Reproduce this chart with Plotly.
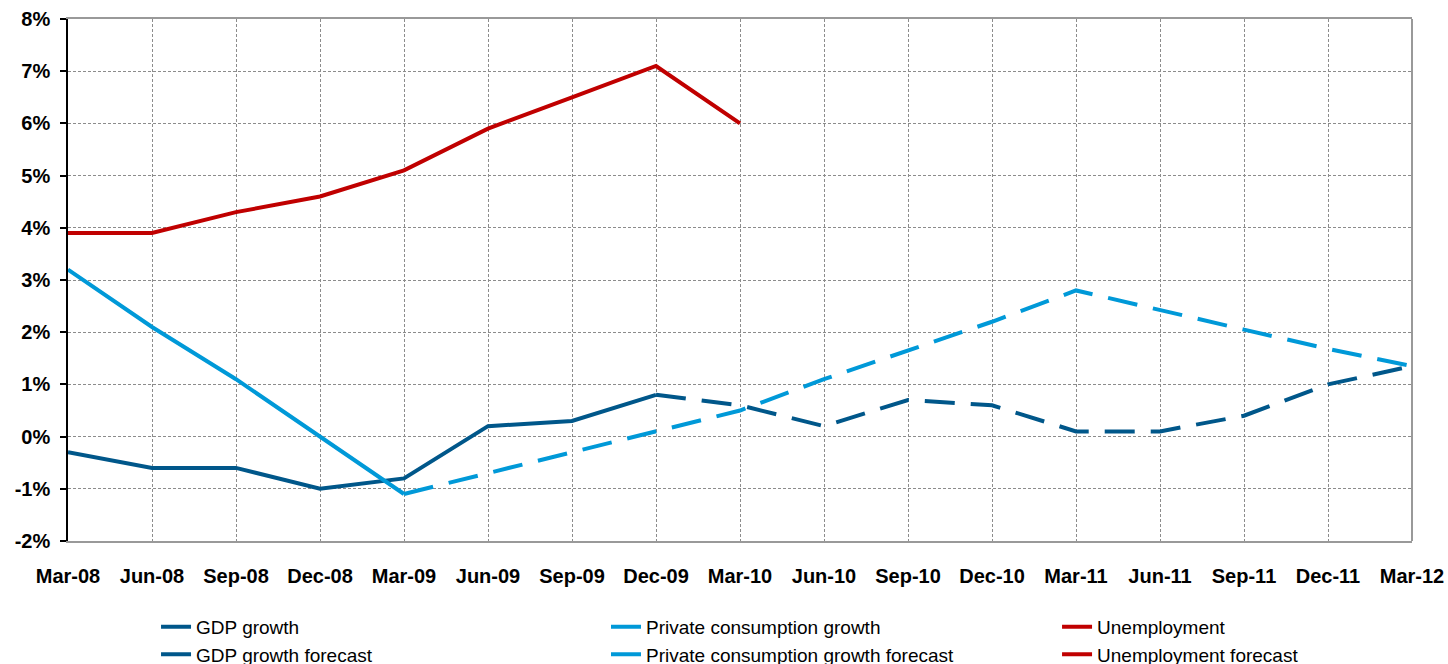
import plotly.graph_objects as go

dates = ["Mar-08", "Jun-08", "Sep-08", "Dec-08", "Mar-09", "Jun-09", "Sep-09", "Dec-09",
         "Mar-10", "Jun-10", "Sep-10", "Dec-10", "Mar-11", "Jun-11", "Sep-11", "Dec-11", "Mar-12"]

gdp_dates = dates[0:8]
gdp_growth = [-0.3, -0.6, -0.6, -1.0, -0.8, 0.2, 0.3, 0.8]

gdp_fc_dates = dates[7:17]
gdp_forecast = [0.8, 0.6, 0.2, 0.7, 0.6, 0.1, 0.1, 0.4, 1.0, 1.35]

pc_dates = dates[0:5]
pc_growth = [3.2, 2.1, 1.1, 0.0, -1.1]

pc_fc_dates = dates[4:17]
pc_forecast = [-1.1, -0.7, -0.3, 0.1, 0.5, 1.1, 1.65, 2.2, 2.8, 2.42, 2.05, 1.68, 1.35]

unemp_dates = dates[0:9]
unemployment = [3.9, 3.9, 4.3, 4.6, 5.1, 5.9, 6.5, 7.1, 6.0]

# no forecast values shown for unemployment (legend entry only)
unemp_fc_dates = [dates[-1]]
unemp_forecast = [None]

y_ticks = [-2, -1, 0, 1, 2, 3, 4, 5, 6, 7, 8]
y_tick_labels = [f"{v}%" for v in y_ticks]

C_GDP = "#00578A"
C_PC = "#0099D8"
C_UN = "#C00000"
DASH = "30px,16px"
LW = 4

fig = go.Figure()
fig.add_trace(go.Scatter(x=gdp_dates, y=gdp_growth, mode="lines", name="GDP growth",
                         line=dict(color=C_GDP, width=LW), legend="legend"))
fig.add_trace(go.Scatter(x=gdp_fc_dates, y=gdp_forecast, mode="lines", name="GDP growth forecast",
                         line=dict(color=C_GDP, width=LW, dash=DASH), legend="legend"))
fig.add_trace(go.Scatter(x=pc_dates, y=pc_growth, mode="lines", name="Private consumption growth",
                         line=dict(color=C_PC, width=LW), legend="legend2"))
fig.add_trace(go.Scatter(x=pc_fc_dates, y=pc_forecast, mode="lines", name="Private consumption growth forecast",
                         line=dict(color=C_PC, width=LW, dash=DASH), legend="legend2"))
fig.add_trace(go.Scatter(x=unemp_dates, y=unemployment, mode="lines", name="Unemployment",
                         line=dict(color=C_UN, width=LW), legend="legend3"))
fig.add_trace(go.Scatter(x=unemp_fc_dates, y=unemp_forecast, mode="lines", name="Unemployment forecast",
                         line=dict(color=C_UN, width=LW, dash=DASH), legend="legend3"))

GRID = "#8C8C8C"
tick_font = dict(family="Liberation Sans, Arial, sans-serif", size=20, color="black", weight="bold")
leg_font = dict(family="Liberation Sans, Arial, sans-serif", size=19, color="black")

leg_common = dict(orientation="v", yanchor="top", xanchor="left", bgcolor="rgba(0,0,0,0)",
                  font=leg_font, tracegroupgap=0, itemwidth=30)
ly = -0.128

fig.update_layout(
    width=1448, height=664,
    margin=dict(l=68, r=36, t=19, b=123, autoexpand=False),
    paper_bgcolor="white", plot_bgcolor="white",
    showlegend=True,
    legend=dict(x=0.0655, y=ly, **leg_common),
    legend2=dict(x=0.4003, y=ly, **leg_common),
    legend3=dict(x=0.7359, y=ly, **leg_common),
    xaxis=dict(type="category", categoryorder="array", categoryarray=dates,
               range=[0, len(dates) - 1], tickangle=0,
               showgrid=True, gridcolor=GRID, gridwidth=1, griddash="3px,2px",
               showline=True, linecolor="#999999", linewidth=2, mirror=True,
               ticks="", tickfont=tick_font, ticklabelstandoff=16, zeroline=False),
    xaxis2=dict(overlaying="x", anchor="free", position=0.2, type="linear",
                range=[0, len(dates) - 1], tickvals=list(range(len(dates))),
                showticklabels=False, showgrid=False, zeroline=False,
                showline=True, linecolor="black", linewidth=1.5,
                ticks="outside", ticklen=6, tickcolor="black", tickwidth=1.5),
    yaxis=dict(range=[-2, 8], tickmode="array", tickvals=y_ticks, ticktext=y_tick_labels,
               showgrid=True, gridcolor=GRID, gridwidth=1, griddash="3px,2px",
               showline=True, linecolor="black", linewidth=1.5,
               ticks="outside", ticklen=6, tickcolor="black", tickwidth=1.5,
               ticklabelstandoff=6,
               tickfont=tick_font, zeroline=False),
    shapes=[dict(type="line", xref="x domain", yref="y domain", x0=1, x1=1, y0=0, y1=1,
                 line=dict(color="#999999", width=2))],
)

fig.write_html("out.html", config={"displayModeBar": False},
               post_script="document.body.style.margin='0';document.body.style.overflow='hidden';")
